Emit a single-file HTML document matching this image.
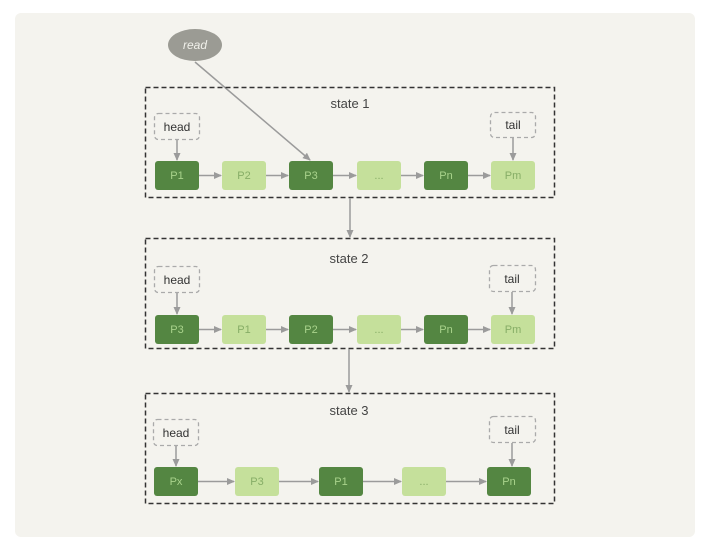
<!DOCTYPE html>
<html><head><meta charset="utf-8"><style>
html,body{margin:0;padding:0;background:#fff;}
svg{display:block;}
text{font-family:"Liberation Sans",sans-serif;}
</style></head><body>
<svg width="704" height="555" viewBox="0 0 704 555" xmlns="http://www.w3.org/2000/svg">
<defs>
<marker id="a" markerWidth="8" markerHeight="8" refX="7" refY="4" orient="auto" markerUnits="userSpaceOnUse">
<path d="M0,0.5 L8,4 L0,7.5 z" fill="#9b9b9b"/></marker>
</defs>
<rect x="15" y="13" width="680" height="524" rx="6" fill="#f4f3ee"/>

<!-- read -->
<ellipse cx="195" cy="45" rx="27" ry="16" fill="#9b9b94"/>
<text x="195" y="49" text-anchor="middle" font-size="12" fill="#f0f0ea" font-style="italic">read</text>
<line x1="195" y1="62" x2="310" y2="160" stroke="#9b9b9b" stroke-width="1.5" marker-end="url(#a)"/>

<g stroke="#333" stroke-width="1.5" stroke-dasharray="5,3" fill="none">
<rect x="145.5" y="87.5" width="409" height="110"/>
<rect x="145.5" y="238.5" width="409" height="110"/>
<rect x="145.5" y="393.5" width="409" height="110"/>
</g>
<g font-size="13" fill="#444" text-anchor="middle">
<text x="350" y="108">state 1</text>
<text x="349" y="263">state 2</text>
<text x="349" y="415">state 3</text>
</g>

<!-- connectors between states -->
<line x1="350" y1="198" x2="350" y2="237" stroke="#9b9b9b" stroke-width="1.5" marker-end="url(#a)"/>
<line x1="349" y1="349" x2="349" y2="392" stroke="#9b9b9b" stroke-width="1.5" marker-end="url(#a)"/>

<!-- head/tail boxes -->
<g stroke="#aaa" stroke-width="1.3" stroke-dasharray="4,3" fill="none">
<rect x="154.5" y="113.5" width="45" height="26" rx="4"/>
<rect x="490.5" y="112.5" width="45" height="25" rx="4"/>
<rect x="154.5" y="266.5" width="45" height="26" rx="4"/>
<rect x="489.5" y="265.5" width="46" height="26" rx="4"/>
<rect x="153.5" y="419.5" width="45" height="26" rx="4"/>
<rect x="489.5" y="416.5" width="46" height="26" rx="4"/>
</g>
<g font-size="12" fill="#333" text-anchor="middle">
<text x="177" y="131">head</text><text x="513" y="129">tail</text>
<text x="177" y="284">head</text><text x="512" y="283">tail</text>
<text x="176" y="437">head</text><text x="512" y="434">tail</text>
</g>
<g stroke="#9b9b9b" stroke-width="1.5" marker-end="url(#a)">
<line x1="177" y1="140" x2="177" y2="160"/><line x1="513" y1="138" x2="513" y2="160"/>
<line x1="177" y1="293" x2="177" y2="314"/><line x1="512" y1="292" x2="512" y2="314"/>
<line x1="176" y1="446" x2="176" y2="466"/><line x1="512" y1="443" x2="512" y2="466"/>
</g>

<!-- row 1 -->
<g font-size="11" text-anchor="middle">
<rect x="155" y="161" width="44" height="29" rx="3" fill="#548642"/><text x="177" y="179" fill="#a9d38c">P1</text>
<rect x="222" y="161" width="44" height="29" rx="3" fill="#c5e09b"/><text x="244" y="179" fill="#86ad66">P2</text>
<rect x="289" y="161" width="44" height="29" rx="3" fill="#548642"/><text x="311" y="179" fill="#a9d38c">P3</text>
<rect x="357" y="161" width="44" height="29" rx="3" fill="#c5e09b"/><text x="379" y="179" fill="#86ad66">...</text>
<rect x="424" y="161" width="44" height="29" rx="3" fill="#548642"/><text x="446" y="179" fill="#a9d38c">Pn</text>
<rect x="491" y="161" width="44" height="29" rx="3" fill="#c5e09b"/><text x="513" y="179" fill="#86ad66">Pm</text>

<rect x="155" y="315" width="44" height="29" rx="3" fill="#548642"/><text x="177" y="333" fill="#a9d38c">P3</text>
<rect x="222" y="315" width="44" height="29" rx="3" fill="#c5e09b"/><text x="244" y="333" fill="#86ad66">P1</text>
<rect x="289" y="315" width="44" height="29" rx="3" fill="#548642"/><text x="311" y="333" fill="#a9d38c">P2</text>
<rect x="357" y="315" width="44" height="29" rx="3" fill="#c5e09b"/><text x="379" y="333" fill="#86ad66">...</text>
<rect x="424" y="315" width="44" height="29" rx="3" fill="#548642"/><text x="446" y="333" fill="#a9d38c">Pn</text>
<rect x="491" y="315" width="44" height="29" rx="3" fill="#c5e09b"/><text x="513" y="333" fill="#86ad66">Pm</text>

<rect x="154" y="467" width="44" height="29" rx="3" fill="#548642"/><text x="176" y="485" fill="#a9d38c">Px</text>
<rect x="235" y="467" width="44" height="29" rx="3" fill="#c5e09b"/><text x="257" y="485" fill="#86ad66">P3</text>
<rect x="319" y="467" width="44" height="29" rx="3" fill="#548642"/><text x="341" y="485" fill="#a9d38c">P1</text>
<rect x="402" y="467" width="44" height="29" rx="3" fill="#c5e09b"/><text x="424" y="485" fill="#86ad66">...</text>
<rect x="487" y="467" width="44" height="29" rx="3" fill="#548642"/><text x="509" y="485" fill="#a9d38c">Pn</text>
</g>

<g stroke="#9b9b9b" stroke-width="1.5" marker-end="url(#a)">
<line x1="199" y1="175.5" x2="221" y2="175.5"/><line x1="266" y1="175.5" x2="288" y2="175.5"/>
<line x1="333" y1="175.5" x2="356" y2="175.5"/><line x1="401" y1="175.5" x2="423" y2="175.5"/>
<line x1="468" y1="175.5" x2="490" y2="175.5"/>
<line x1="199" y1="329.5" x2="221" y2="329.5"/><line x1="266" y1="329.5" x2="288" y2="329.5"/>
<line x1="333" y1="329.5" x2="356" y2="329.5"/><line x1="401" y1="329.5" x2="423" y2="329.5"/>
<line x1="468" y1="329.5" x2="490" y2="329.5"/>
<line x1="198" y1="481.5" x2="234" y2="481.5"/><line x1="279" y1="481.5" x2="318" y2="481.5"/>
<line x1="363" y1="481.5" x2="401" y2="481.5"/><line x1="446" y1="481.5" x2="486" y2="481.5"/>
</g>
</svg>
</body></html>
